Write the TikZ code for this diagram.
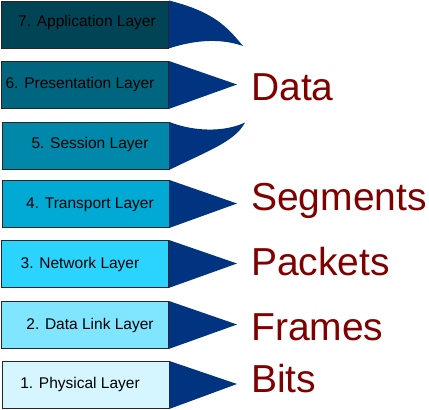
\documentclass[tikz,border=0pt]{standalone}
\usepackage{fontspec}
\setmainfont{Liberation Sans}
\definecolor{c7}{HTML}{004455}
\definecolor{c6}{HTML}{006680}
\definecolor{c5}{HTML}{0088AA}
\definecolor{c4}{HTML}{00AAD4}
\definecolor{c3}{HTML}{2AD4FF}
\definecolor{c2}{HTML}{80E5FF}
\definecolor{c1}{HTML}{D5F6FF}
\definecolor{arrblue}{HTML}{003380}
\definecolor{lblred}{HTML}{800000}
\begin{document}
\begin{tikzpicture}[x=1pt,y=-1pt,
  box/.style={draw=black!85,line width=0.9pt,minimum width=167pt,minimum height=47pt,inner sep=0pt,anchor=north west},
  ltext/.style={anchor=base,inner sep=0pt,font=\fontsize{15.5}{16}\selectfont,text=black},
  arr/.style={fill=arrblue},
  biglabel/.style={anchor=base west,inner sep=0pt,font=\fontsize{39}{40}\selectfont,text=lblred}]
\useasboundingbox (0,0) rectangle (429,410);
% boxes
\node[box,fill=c7] (b7) at (1,0.5) {};
\node[box,fill=c6] (b6) at (1,61) {};
\node[box,fill=c5] (b5) at (1.5,122) {};
\node[box,fill=c4] (b4) at (1.5,180) {};
\node[box,fill=c3] (b3) at (1,240) {};
\node[box,fill=c2] (b2) at (1,301) {};
\node[box,fill=c1] (b1) at (1.5,361) {};
% layer texts
\node[ltext] (t7) at (87,26) {7. Application Layer};
\node[ltext] (t6) at (80,88) {6. Presentation Layer};
\node[ltext] (t5) at (90,148) {5. Session Layer};
\node[ltext] (t4) at (90,208) {4. Transport Layer};
\node[ltext] (t3) at (80,268) {3. Network Layer};
\node[ltext] (t2) at (90,329) {2. Data Link Layer};
\node[ltext] (t1) at (80,388) {1. Physical Layer};
% arrow shapes
\coordinate (p7) at (243,46);
\coordinate (p6) at (237,84.5);
\coordinate (p5) at (245,122.5);
\coordinate (p4) at (237,203.5);
\coordinate (p3) at (237,263.5);
\coordinate (p2) at (237,324.5);
\coordinate (p1) at (237,384);
\fill[arr] (b7.north east) .. controls (215,12) and (228,28) .. (p7)
  .. controls (220,38) and (195,40) .. (b7.south east) -- cycle;
\fill[arr] (b6.north east) -- (p6) -- (b6.south east) -- cycle;
\fill[arr] (b5.north east) .. controls (195,132) and (225,132) .. (p5)
  .. controls (235,142) and (205,152) .. (b5.south east) -- cycle;
\fill[arr] (b4.north east) -- (p4) -- (b4.south east) -- cycle;
\fill[arr] (b3.north east) -- (p3) -- (b3.south east) -- cycle;
\fill[arr] (b2.north east) -- (p2) -- (b2.south east) -- cycle;
\fill[arr] (b1.north east) -- (p1) -- (b1.south east) -- cycle;
% labels
\node[biglabel] (lData) at (251,100) {Data};
\node[biglabel] (lSeg) at (251,210) {Segments};
\node[biglabel] (lPack) at (251,275) {Packets};
\node[biglabel] (lFrame) at (251,340) {Frames};
\node[biglabel] (lBits) at (251,392) {Bits};
\end{tikzpicture}
\end{document}
